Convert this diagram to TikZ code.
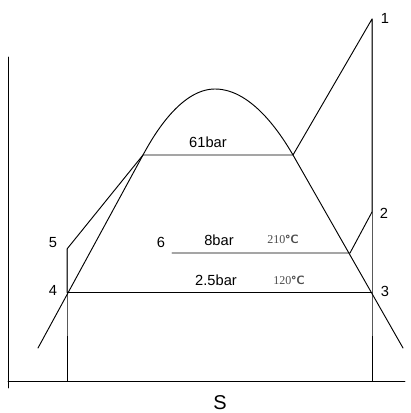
\documentclass[tikz,border=0pt]{standalone}
\usepackage{fontspec}
\setmainfont{Liberation Sans}
\newfontfamily\tempfont{Liberation Serif}
\begin{document}
\begin{tikzpicture}[x=0.75pt,y=-0.75pt,font=\fontsize{11}{13}\selectfont, line join=round, line cap=round, line width=0.7pt]
	\tikzset{templabel/.style={text=black!70,font=\tempfont\fontsize{9}{10}\selectfont}}
	\useasboundingbox (0,0) rectangle (410,413);
	% axes
	\draw (8,57)--(8,388);
	\draw (8,381)--(405,381);
	% state points
	\coordinate (p1) at (372,19);
	\coordinate (p2) at (372,212);
	\coordinate (p3) at (372,292);
	\coordinate (p4) at (67,292);
	\coordinate (p5) at (67,249);
	\coordinate (p6) at (172,253);
	\coordinate (l61) at (143,155);
	\coordinate (r61) at (293,155);
	\coordinate (r8) at (350,253);
	\coordinate (top) at (215,89);
	% saturation dome
	\draw (38,348) -- (l61) parabola bend (top) (r61) -- (403,348);
	% cycle
	\draw (p4) -- (p5) -- (l61) -- (r61) -- (p1) -- (p2) -- (r8) -- (p6);
	\draw (p4) -- (p3);
	\draw (p5) -- (p4) -- (67,381);
	\draw (p1) -- (p3) -- (372,381);
	% labels
	\node (n1) at (385,18) {1};
	\node (n2) at (384,213) {2};
	\node (n3) at (385,291) {3};
	\node (n4) at (53,290) {4};
	\node (n5) at (53,243) {5};
	\node (n6) at (161,242) {6};
	\node (b61) at (208,142) {61bar};
	\node (b8) at (219,240) {8bar};
	\node (b25) at (216,280) {2.5bar};
	\node[templabel] (t210) at (283,239) {210\textbf{\textsf{°C}}};
	\node[templabel] (t120) at (289,280) {120\textbf{\textsf{°C}}};
	\node[font=\fontsize{15}{17}\selectfont,inner sep=0pt] (s) at (220,403) {S};
\end{tikzpicture}
\end{document}
